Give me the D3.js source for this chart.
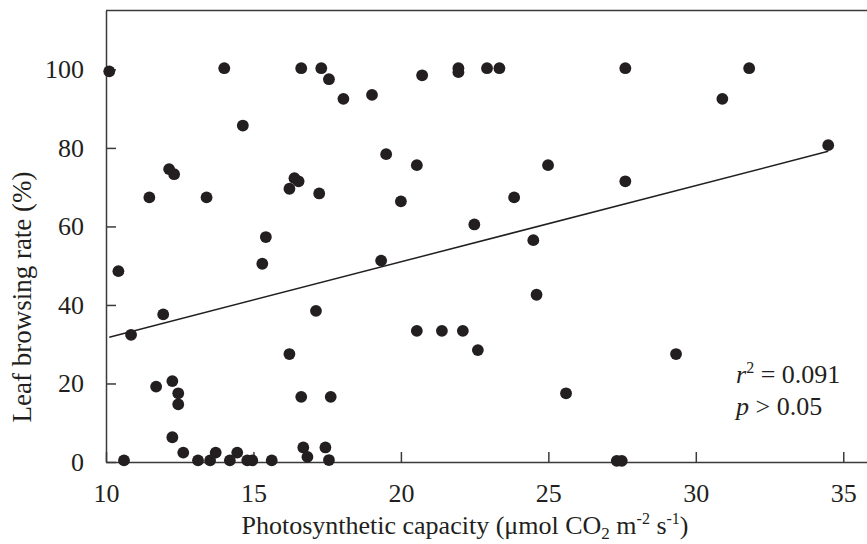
<!DOCTYPE html>
<html>
<head>
<meta charset="utf-8">
<script src="https://cdn.jsdelivr.net/npm/d3@7"></script>
<style>
  body { margin: 0; background: #fff; }
  svg text { font-family: "Liberation Serif", "Times New Roman", serif; fill: #231f20; }
</style>
</head>
<body>
<svg id="chart" width="867" height="544"></svg>
<script>
'use strict';

// photosynthetic capacity (x) and leaf browsing rate (y)
var capacity = [
  10.11, 10.42, 10.61, 10.85, 11.47, 11.70, 11.94, 12.14, 12.25, 12.25,
  12.31, 12.45, 12.45, 12.62, 13.12, 13.41, 13.53, 13.72, 14.01, 14.20,
  14.45, 14.64, 14.79, 14.96, 15.30, 15.42, 15.62, 16.22, 16.22, 16.39,
  16.53, 16.62, 16.62, 16.69, 16.83, 17.12, 17.23, 17.30, 17.44, 17.56,
  17.56, 17.62, 18.05, 19.02, 19.33, 19.50, 20.00, 20.54, 20.54, 20.72,
  21.39, 21.95, 21.95, 22.10, 22.49, 22.61, 22.92, 23.34, 23.84, 24.49,
  24.60, 24.99, 25.60, 27.32, 27.49, 27.61, 27.61, 29.33, 30.90, 31.81,
  34.49
];
var browsing = [
  99.5, 48.6, 0.4, 32.4, 67.4, 19.2, 37.6, 74.6, 20.6, 6.3,
  73.3, 17.5, 14.7, 2.4, 0.4, 67.4, 0.4, 2.4, 100.3, 0.4,
  2.4, 85.7, 0.4, 0.4, 50.5, 57.3, 0.4, 69.6, 27.5, 72.3,
  71.5, 100.3, 16.6, 3.7, 1.3, 38.5, 68.4, 100.3, 3.7, 97.5,
  0.5, 16.6, 92.5, 93.5, 51.3, 78.4, 66.4, 75.6, 33.4, 98.5,
  33.4, 100.3, 99.3, 33.4, 60.5, 28.5, 100.3, 100.3, 67.4, 56.5,
  42.6, 75.6, 17.5, 0.3, 0.3, 100.3, 71.5, 27.5, 92.5, 100.3,
  80.7
];

var xTicks = [10, 15, 20, 25, 30, 35];
var yTicks = [0, 20, 40, 60, 80, 100];

// linear fit shown on the figure
var fitSlope = 1.942;
var fitIntercept = 12.15;
var statsText = { r2: '0.091', p: '0.05' };

var margin = { left: 106, top: 10.5, bottom: 462 };

var svg = d3.select('#chart');

var x = d3.scaleLinear().domain([10, 36]).range([margin.left, margin.left + 26 * 29.49]);
var y = d3.scaleLinear().domain([0, 115]).range([margin.bottom, margin.top]);

var axisColor = '#3a3a3a';

// x axis (ticks pointing inward)
var xAxis = svg.append('g')
  .attr('transform', 'translate(0,' + margin.bottom + ')')
  .call(d3.axisBottom(x).tickValues(xTicks).tickSizeInner(-10).tickSizeOuter(0).tickPadding(22));

// y axis
var yAxis = svg.append('g')
  .attr('transform', 'translate(' + margin.left + ',0)')
  .call(d3.axisLeft(y).tickValues(yTicks).tickSizeInner(-10).tickSizeOuter(0).tickPadding(22));

[xAxis, yAxis].forEach(function (g) {
  g.select('.domain').attr('stroke', axisColor).attr('stroke-width', 1.5);
  g.selectAll('.tick line').attr('stroke', axisColor).attr('stroke-width', 1.5);
  g.selectAll('.tick text')
    .attr('font-size', 26)
    .attr('font-family', '"Liberation Serif", serif')
    .attr('fill', '#231f20');
});

// top frame line
svg.append('line')
  .attr('x1', margin.left).attr('x2', 867)
  .attr('y1', margin.top).attr('y2', margin.top)
  .attr('stroke', axisColor).attr('stroke-width', 1.5);

// regression line
var xMin = d3.min(capacity);
var xMax = d3.max(capacity);
svg.append('line')
  .attr('x1', x(xMin)).attr('y1', y(fitIntercept + fitSlope * xMin))
  .attr('x2', x(xMax)).attr('y2', y(fitIntercept + fitSlope * xMax))
  .attr('stroke', '#231f20').attr('stroke-width', 1.5);

// points
svg.append('g').selectAll('circle')
  .data(capacity.map(function (c, i) { return [c, browsing[i]]; }))
  .join('circle')
  .attr('cx', function (d) { return x(d[0]); })
  .attr('cy', function (d) { return y(d[1]); })
  .attr('r', 5.9)
  .attr('fill', '#231f20');

// stats annotation
var r2 = svg.append('text').attr('x', 736).attr('y', 383).attr('font-size', 26);
r2.append('tspan').attr('font-style', 'italic').text('r');
r2.append('tspan').attr('font-size', 16).attr('dy', -10).text('2');
r2.append('tspan').attr('dy', 10).text(' = ' + statsText.r2);

var p = svg.append('text').attr('x', 736).attr('y', 415).attr('font-size', 26);
p.append('tspan').attr('font-style', 'italic').text('p');
p.append('tspan').text(' > ' + statsText.p);

// axis titles
var xt = svg.append('text')
  .attr('x', 465).attr('y', 534)
  .attr('text-anchor', 'middle')
  .attr('font-size', 26);
xt.append('tspan').text('Photosynthetic capacity (\u03bcmol CO');
xt.append('tspan').attr('font-size', 17).attr('dy', 5).text('2');
xt.append('tspan').attr('dy', -5).text(' m');
xt.append('tspan').attr('font-size', 16).attr('dy', -10).text('-2');
xt.append('tspan').attr('dy', 10).text(' s');
xt.append('tspan').attr('font-size', 16).attr('dy', -10).text('-1');
xt.append('tspan').attr('dy', 10).text(')');

svg.append('text')
  .attr('transform', 'translate(31,297) rotate(-90)')
  .attr('text-anchor', 'middle')
  .attr('font-size', 27)
  .text('Leaf browsing rate (%)');
</script>
</body>
</html>
